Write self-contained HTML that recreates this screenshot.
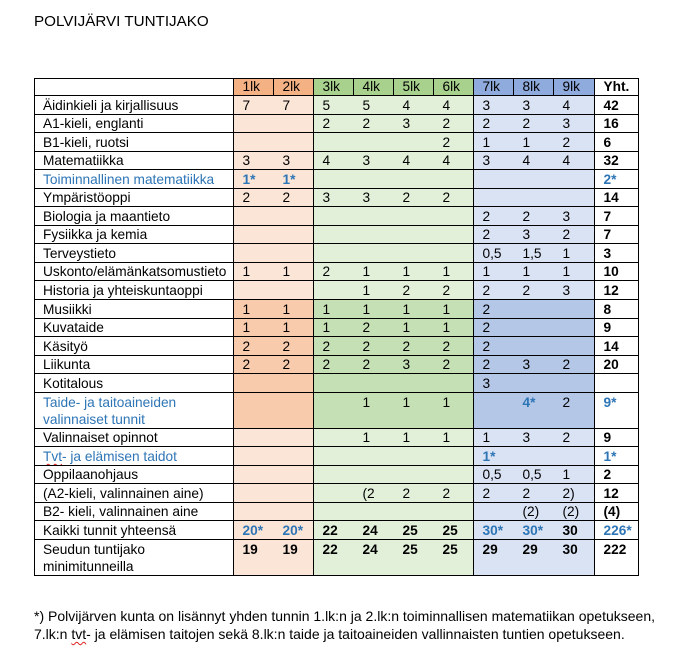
<!DOCTYPE html>
<html>
<head>
<meta charset="utf-8">
<style>
  html,body{margin:0;padding:0;}
  body{width:678px;height:667px;background:#fff;position:relative;overflow:hidden;font-family:"Liberation Sans",Arial,sans-serif;color:#000;}
  .title{position:absolute;left:34px;top:12.7px;font-size:15.2px;line-height:18px;white-space:nowrap;}
  table{position:absolute;left:34px;top:78px;width:605px;border-collapse:separate;border-spacing:0;table-layout:fixed;font-size:13.7px;}
  td{padding:1.55px 0 0 8.5px;line-height:16px;vertical-align:top;border-bottom:1px solid #000;white-space:nowrap;overflow:hidden;}
  tr{height:18.55px;}
  tr.tall{height:36px;}
  tr.tall td{line-height:17px;padding-top:1px;}
  tr.h{height:18px;}
  tr.h td{border-top:1px solid #000;border-right:1px solid #000;padding-top:0;line-height:15px;}
  td:nth-child(1){border-left:1px solid #000;border-right:1px solid #000;padding-left:8px;background:#fff;}
  td:nth-child(2),td:nth-child(3){background:#FBE5D6;}
  td:nth-child(3){border-right:1px solid #000;}
  td:nth-child(4),td:nth-child(5),td:nth-child(6),td:nth-child(7){background:#E2F0D9;}
  td:nth-child(7){border-right:1px solid #000;}
  td:nth-child(8),td:nth-child(9),td:nth-child(10){background:#DAE3F3;}
  td:nth-child(10){border-right:1px solid #000;}
  td:nth-child(11){border-right:1px solid #000;font-weight:bold;background:#fff;}
  tr.d td:nth-child(2),tr.d td:nth-child(3){background:#F8CBAD;}
  tr.d td:nth-child(4),tr.d td:nth-child(5),tr.d td:nth-child(6),tr.d td:nth-child(7){background:#C5E0B4;}
  tr.d td:nth-child(8),tr.d td:nth-child(9),tr.d td:nth-child(10){background:#B4C7E7;}
  tr.h td:nth-child(2),tr.h td:nth-child(3){background:#F4B183;}
  tr.h td:nth-child(4),tr.h td:nth-child(5),tr.h td:nth-child(6),tr.h td:nth-child(7){background:#A9D18E;}
  tr.h td:nth-child(8),tr.h td:nth-child(9),tr.h td:nth-child(10){background:#8FAADC;}
  tr.k td{font-weight:bold;}
  tr.k td:first-child{font-weight:normal;}
  .b{color:#2E75B6;}
  .bb{color:#2E75B6;font-weight:bold;}
  .sp{text-decoration:underline wavy #e02020;text-decoration-thickness:1px;text-underline-offset:2px;}
  .foot{position:absolute;left:34px;top:607px;font-size:14px;line-height:18px;white-space:nowrap;}
</style>
</head>
<body>
<div class="title">POLVIJÄRVI TUNTIJAKO</div>
<table>
  <colgroup>
    <col style="width:200px"><col style="width:40px"><col style="width:40px"><col style="width:40px"><col style="width:40px"><col style="width:40px"><col style="width:40px"><col style="width:40px"><col style="width:40px"><col style="width:41px"><col style="width:44px">
  </colgroup>
  <tr class="h"><td></td><td>1lk</td><td>2lk</td><td>3lk</td><td>4lk</td><td>5lk</td><td>6lk</td><td>7lk</td><td>8lk</td><td>9lk</td><td>Yht.</td></tr>
  <tr><td>Äidinkieli ja kirjallisuus</td><td>7</td><td>7</td><td>5</td><td>5</td><td>4</td><td>4</td><td>3</td><td>3</td><td>4</td><td>42</td></tr>
  <tr><td>A1-kieli, englanti</td><td></td><td></td><td>2</td><td>2</td><td>3</td><td>2</td><td>2</td><td>2</td><td>3</td><td>16</td></tr>
  <tr><td>B1-kieli, ruotsi</td><td></td><td></td><td></td><td></td><td></td><td>2</td><td>1</td><td>1</td><td>2</td><td>6</td></tr>
  <tr><td>Matematiikka</td><td>3</td><td>3</td><td>4</td><td>3</td><td>4</td><td>4</td><td>3</td><td>4</td><td>4</td><td>32</td></tr>
  <tr><td class="b">Toiminnallinen matematiikka</td><td class="bb">1*</td><td class="bb">1*</td><td></td><td></td><td></td><td></td><td></td><td></td><td></td><td class="bb">2*</td></tr>
  <tr><td>Ympäristöoppi</td><td>2</td><td>2</td><td>3</td><td>3</td><td>2</td><td>2</td><td></td><td></td><td></td><td>14</td></tr>
  <tr><td>Biologia ja maantieto</td><td></td><td></td><td></td><td></td><td></td><td></td><td>2</td><td>2</td><td>3</td><td>7</td></tr>
  <tr><td>Fysiikka ja kemia</td><td></td><td></td><td></td><td></td><td></td><td></td><td>2</td><td>3</td><td>2</td><td>7</td></tr>
  <tr><td>Terveystieto</td><td></td><td></td><td></td><td></td><td></td><td></td><td>0,5</td><td>1,5</td><td>1</td><td>3</td></tr>
  <tr><td>Uskonto/elämänkatsomustieto</td><td>1</td><td>1</td><td>2</td><td>1</td><td>1</td><td>1</td><td>1</td><td>1</td><td>1</td><td>10</td></tr>
  <tr><td>Historia ja yhteiskuntaoppi</td><td></td><td></td><td></td><td>1</td><td>2</td><td>2</td><td>2</td><td>2</td><td>3</td><td>12</td></tr>
  <tr class="d"><td>Musiikki</td><td>1</td><td>1</td><td>1</td><td>1</td><td>1</td><td>1</td><td>2</td><td></td><td></td><td>8</td></tr>
  <tr class="d"><td>Kuvataide</td><td>1</td><td>1</td><td>1</td><td>2</td><td>1</td><td>1</td><td>2</td><td></td><td></td><td>9</td></tr>
  <tr class="d"><td>Käsityö</td><td>2</td><td>2</td><td>2</td><td>2</td><td>2</td><td>2</td><td>2</td><td></td><td></td><td>14</td></tr>
  <tr class="d"><td>Liikunta</td><td>2</td><td>2</td><td>2</td><td>2</td><td>3</td><td>2</td><td>2</td><td>3</td><td>2</td><td>20</td></tr>
  <tr class="d"><td>Kotitalous</td><td></td><td></td><td></td><td></td><td></td><td></td><td>3</td><td></td><td></td><td></td></tr>
  <tr class="d tall"><td class="b">Taide- ja taitoaineiden<br>valinnaiset tunnit</td><td></td><td></td><td></td><td>1</td><td>1</td><td>1</td><td></td><td class="bb">4*</td><td>2</td><td class="bb">9*</td></tr>
  <tr><td>Valinnaiset opinnot</td><td></td><td></td><td></td><td>1</td><td>1</td><td>1</td><td>1</td><td>3</td><td>2</td><td>9</td></tr>
  <tr><td class="b"><span class="sp">Tvt</span>- ja elämisen taidot</td><td></td><td></td><td></td><td></td><td></td><td></td><td class="bb">1*</td><td></td><td></td><td class="bb">1*</td></tr>
  <tr><td>Oppilaanohjaus</td><td></td><td></td><td></td><td></td><td></td><td></td><td>0,5</td><td>0,5</td><td>1</td><td>2</td></tr>
  <tr><td>(A2-kieli, valinnainen aine)</td><td></td><td></td><td></td><td>(2</td><td>2</td><td>2</td><td>2</td><td>2</td><td>2)</td><td>12</td></tr>
  <tr><td>B2- kieli, valinnainen aine</td><td></td><td></td><td></td><td></td><td></td><td></td><td></td><td>(2)</td><td>(2)</td><td>(4)</td></tr>
  <tr class="k"><td>Kaikki tunnit yhteensä</td><td class="bb">20*</td><td class="bb">20*</td><td>22</td><td>24</td><td>25</td><td>25</td><td class="bb">30*</td><td class="bb">30*</td><td>30</td><td class="bb">226*</td></tr>
  <tr class="k tall"><td>Seudun tuntijako<br>minimitunneilla</td><td>19</td><td>19</td><td>22</td><td>24</td><td>25</td><td>25</td><td>29</td><td>29</td><td>30</td><td>222</td></tr>
</table>
<div class="foot">*) Polvijärven kunta on lisännyt yhden tunnin 1.lk:n ja 2.lk:n toiminnallisen matematiikan opetukseen,<br>7.lk:n <span class="sp">tvt</span>- ja elämisen taitojen sekä 8.lk:n taide ja taitoaineiden vallinnaisten tuntien opetukseen.</div>
</body>
</html>
